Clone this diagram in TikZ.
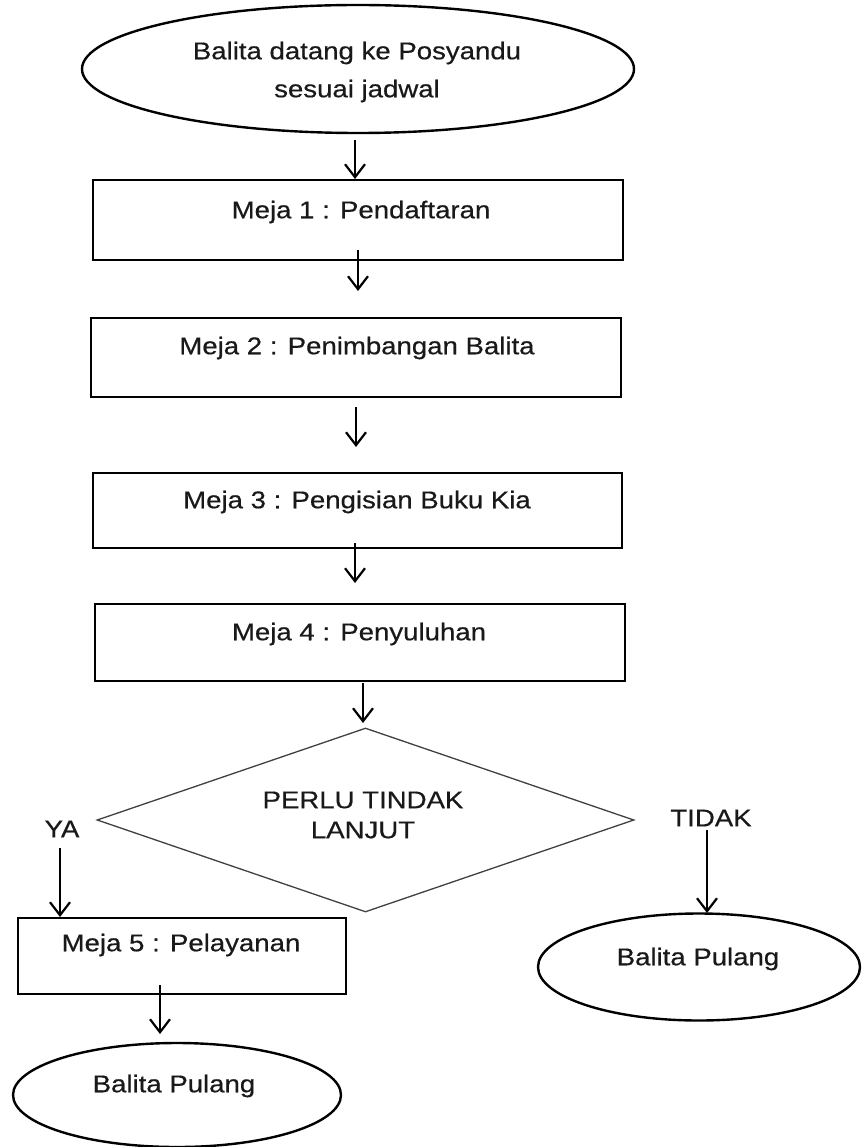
\documentclass[tikz,border=0pt]{standalone}
\usepackage{fontspec}
\setmainfont{Liberation Sans}[FakeStretch=1.14,FakeBold=0.5]
\usetikzlibrary{arrows.meta,shapes.geometric}
\tikzset{
  boxshape/.style={draw=black,line width=2.2pt,rectangle,inner sep=0pt},
  ovalshape/.style={draw=black,line width=2.4pt,ellipse,inner sep=0pt},
  txt/.style={font=\fontsize{24.2}{38}\selectfont,align=center,inner sep=0pt,text=black!90},
  arr/.style={line width=2.2pt,-{Straight Barb[length=13pt,width=20pt,line width=2.2pt]}},
}
\begin{document}
\begin{tikzpicture}[x=1pt,y=-1pt]
\useasboundingbox (0,0) rectangle (861,1147);
% shapes
\node[ovalshape,minimum width=552pt,minimum height=128pt] (e0) at (358,69) {};
\node[txt] (t0) at (357,72) {Balita datang ke Posyandu\\sesuai jadwal};

\node[boxshape,minimum width=530pt,minimum height=80pt] (b1) at (358,220) {};
\node[txt] (t1) at (361,212) {Meja 1 : Pendaftaran};

\node[boxshape,minimum width=530pt,minimum height=79pt] (b2) at (356,357.5) {};
\node[txt] (t2) at (357,348) {Meja 2 : Penimbangan Balita};

\node[boxshape,minimum width=529pt,minimum height=75pt] (b3) at (357.5,510.5) {};
\node[txt] (t3) at (357,502) {Meja 3 : Pengisian Buku Kia};

\node[boxshape,minimum width=530pt,minimum height=77pt] (b4) at (360,642.5) {};
\node[txt] (t4) at (359,634) {Meja 4 : Penyuluhan};

\node[draw=black!75,line width=1.3pt,diamond,inner sep=0pt,minimum width=537pt,minimum height=184pt] (d) at (365.5,820) {};
\node[txt,font=\fontsize{24.2}{30}\selectfont] (td) at (363,815) {PERLU TINDAK\\LANJUT};

\node[txt] (ya) at (62,829) {YA};
\node[txt] (tidak) at (711,818) {TIDAK};

\node[boxshape,minimum width=328pt,minimum height=76pt] (b5) at (182,956) {};
\node[txt] (t5) at (181,945) {Meja 5 : Pelayanan};

\node[ovalshape,minimum width=328pt,minimum height=104pt] (e5) at (177,1095) {};
\node[txt] (t6) at (174,1086) {Balita Pulang};

\node[ovalshape,minimum width=322pt,minimum height=107pt] (e6) at (699,967) {};
\node[txt] (t7) at (698,959) {Balita Pulang};

% arrow end points
\coordinate (a0s) at (355,140); \coordinate (a0e) at (355,179);
\coordinate (a1s) at (358,250); \coordinate (a1e) at (358,291);
\coordinate (a2s) at (356,407); \coordinate (a2e) at (356,447);
\coordinate (a3s) at (355,543); \coordinate (a3e) at (355,583);
\coordinate (a4s) at (363,683); \coordinate (a4e) at (363,723);
\coordinate (ays) at (60,848);  \coordinate (aye) at (60,917);
\coordinate (ats) at (707,830); \coordinate (ate) at (707,913);
\coordinate (a5s) at (160,985); \coordinate (a5e) at (160,1034);

\draw[arr] (a0s) -- (a0e);
\draw[arr] (a1s) -- (a1e);
\draw[arr] (a2s) -- (a2e);
\draw[arr] (a3s) -- (a3e);
\draw[arr] (a4s) -- (a4e);
\draw[arr] (ays) -- (aye);
\draw[arr] (ats) -- (ate);
\draw[arr] (a5s) -- (a5e);
\end{tikzpicture}
\end{document}
